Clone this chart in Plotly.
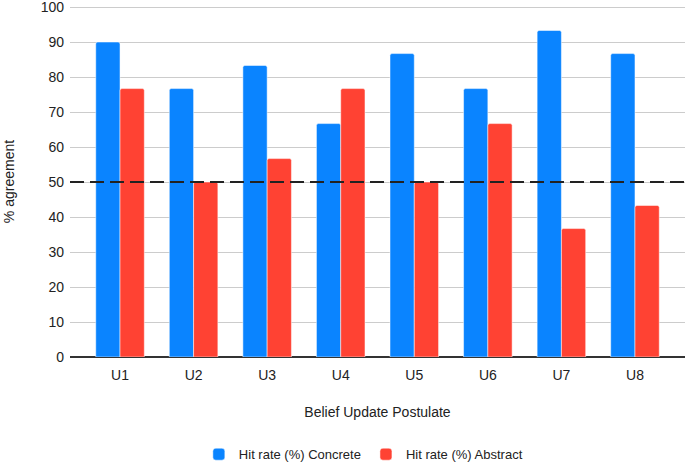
import plotly.graph_objects as go

categories = ["U1", "U2", "U3", "U4", "U5", "U6", "U7", "U8"]
concrete = [90.0, 76.7, 83.3, 66.7, 86.7, 76.7, 93.3, 86.7]
abstract = [76.7, 50.0, 56.7, 76.7, 50.0, 66.7, 36.7, 43.3]
threshold = 50
y_ticks = [0, 10, 20, 30, 40, 50, 60, 70, 80, 90, 100]

BLUE = "#0A84FF"
RED = "#FF4233"

fig = go.Figure()
fig.add_trace(go.Bar(x=categories, y=concrete, name="Hit rate (%) Concrete",
                     marker=dict(color=BLUE, line=dict(color="white", width=0.5))))
fig.add_trace(go.Bar(x=categories, y=abstract, name="Hit rate (%) Abstract",
                     marker=dict(color=RED, line=dict(color="white", width=0.5))))

fig.add_shape(type="line", xref="paper", yref="y", x0=0, x1=1, y0=threshold, y1=threshold,
              line=dict(color="#222222", width=2, dash="14px,6px"), layer="above")

fig.update_layout(
    width=685, height=464,
    margin=dict(l=70, r=0, t=6, b=107, autoexpand=False),
    plot_bgcolor="white", paper_bgcolor="white",
    barmode="group", bargap=0.34, bargroupgap=0.0, barcornerradius=2,
    font=dict(family="Liberation Sans, Arial, sans-serif", size=14, color="#222222"),
    showlegend=True,
    legend=dict(orientation="h", x=0.477, xanchor="center", y=-0.277, yanchor="middle",
                font=dict(size=13, color="#222222"),
                traceorder="normal", itemwidth=30),
    xaxis=dict(range=[-0.68, 7.68], showgrid=False, showline=False, ticks="",
               tickfont=dict(size=14), automargin=False, ticklabelstandoff=8,
               title=dict(text="Belief Update Postulate", font=dict(size=14), standoff=25)),
    yaxis=dict(range=[0, 100.3], tickvals=y_ticks, showgrid=True, gridcolor="#CCCCCC",
               gridwidth=1, zeroline=True, zerolinecolor="#333333", zerolinewidth=1.5,
               showline=False, ticks="", tickfont=dict(size=14), automargin=False,
               ticklabelstandoff=5, ticklabeloverflow="allow",
               title=dict(text="% agreement", font=dict(size=14), standoff=22)),
)

fig.write_html("out.html", config={"displayModeBar": False},
               post_script="document.body.style.margin='0';document.body.style.overflow='hidden';")
